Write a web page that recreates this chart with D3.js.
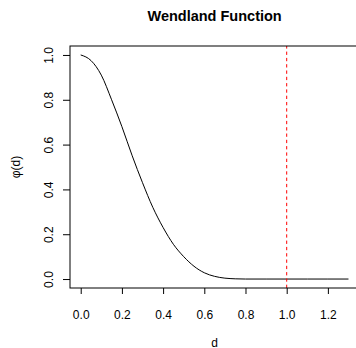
<!DOCTYPE html>
<html>
<head>
<meta charset="utf-8">
<script src="https://cdn.jsdelivr.net/npm/d3@7"></script>
<style>
  body { margin: 0; background: #fff; }
  svg { display: block; font-family: "Liberation Sans", Arial, Helvetica, sans-serif; }
</style>
</head>
<body>
<svg id="chart" width="356" height="348"></svg>
<script>
// values
var d_values   = [0, 0.05, 0.10, 0.15, 0.20, 0.25, 0.30, 0.35, 0.40, 0.45, 0.50, 0.55, 0.60, 0.65, 0.70, 0.75, 0.80, 0.90, 1.00, 1.10, 1.20, 1.30];
var phi_values = [1.00, 0.975, 0.91, 0.80, 0.68, 0.55, 0.43, 0.32, 0.23, 0.155, 0.10, 0.057, 0.028, 0.012, 0.004, 0.001, 0, 0, 0, 0, 0, 0];
var x_ticks = [0, 0.2, 0.4, 0.6, 0.8, 1.0, 1.2];
var y_ticks = [0, 0.2, 0.4, 0.6, 0.8, 1.0];
var cutoff = 1.0;
var title = "Wendland Function";
var x_label = "d";
var y_label = "\u03c6(d)";

var svg = d3.select("#chart");

// R style 4% expansion of the data range
var x_min = 0, x_max = 1.3;
var y_min = 0, y_max = 1;
var x_pad = (x_max - x_min) * 0.04;
var y_pad = (y_max - y_min) * 0.04;

var xScale = d3.scaleLinear()
                .domain([x_min - x_pad, x_max + x_pad])
                .range([70, 359.2]);

var yScale = d3.scaleLinear()
                .domain([y_min - y_pad, y_max + y_pad])
                .range([288, 46]);

var data = d_values.map((d, i) => ({d: d, phi: phi_values[i]}));

// x axis
var x_axis = d3.axisBottom(xScale)
                .tickValues(x_ticks)
                .tickFormat(d3.format(".1f"))
                .tickSize(6)
                .tickPadding(16);

var gx = svg.append("g")
            .attr("transform", "translate(0, 288)")
            .call(x_axis);

// y axis
var y_axis = d3.axisLeft(yScale)
                .tickValues(y_ticks)
                .tickFormat(d3.format(".1f"))
                .tickSize(7);

var gy = svg.append("g")
            .attr("transform", "translate(70, 0)")
            .call(y_axis);

gx.select(".domain").remove();
gy.select(".domain").remove();

svg.selectAll(".tick line").attr("stroke", "#000");
svg.selectAll(".tick text")
    .attr("fill", "#000")
    .style("font-size", "12px");

// y labels run along the axis
gy.selectAll(".tick text")
    .attr("x", null)
    .attr("dy", null)
    .attr("text-anchor", "middle")
    .attr("transform", "translate(-17, 0) rotate(-90)");

// curve
var line = d3.line()
              .x(d => xScale(d.d))
              .y(d => yScale(d.phi))
              .curve(d3.curveMonotoneX);

svg.append("path")
    .datum(data)
    .attr("d", line)
    .attr("fill", "none")
    .attr("stroke", "#000")
    .attr("stroke-width", 1);

// cutoff line, drawn bottom to top like abline
svg.append("line")
    .attr("x1", xScale(cutoff))
    .attr("x2", xScale(cutoff))
    .attr("y1", yScale.range()[0])
    .attr("y2", yScale.range()[1])
    .attr("stroke", "#ff0000")
    .attr("stroke-width", 1)
    .attr("stroke-dasharray", "3.3,3");

// box
svg.append("rect")
    .attr("x", xScale.range()[0])
    .attr("y", yScale.range()[1])
    .attr("width", xScale.range()[1] - xScale.range()[0])
    .attr("height", yScale.range()[0] - yScale.range()[1])
    .attr("fill", "none")
    .attr("stroke", "#000")
    .attr("stroke-width", 1);

// titles
svg.append("text")
    .attr("x", (xScale.range()[0] + xScale.range()[1]) / 2)
    .attr("y", 20.5)
    .attr("text-anchor", "middle")
    .style("font-size", "14.5px")
    .style("font-weight", "bold")
    .text(title);

svg.append("text")
    .attr("x", (xScale.range()[0] + xScale.range()[1]) / 2)
    .attr("y", 346.5)
    .attr("text-anchor", "middle")
    .style("font-size", "12px")
    .text(x_label);

svg.append("text")
    .attr("transform", "translate(19.5," + ((yScale.range()[0] + yScale.range()[1]) / 2) + ") rotate(-90)")
    .attr("text-anchor", "middle")
    .style("font-size", "12px")
    .text(y_label);
</script>
</body>
</html>
